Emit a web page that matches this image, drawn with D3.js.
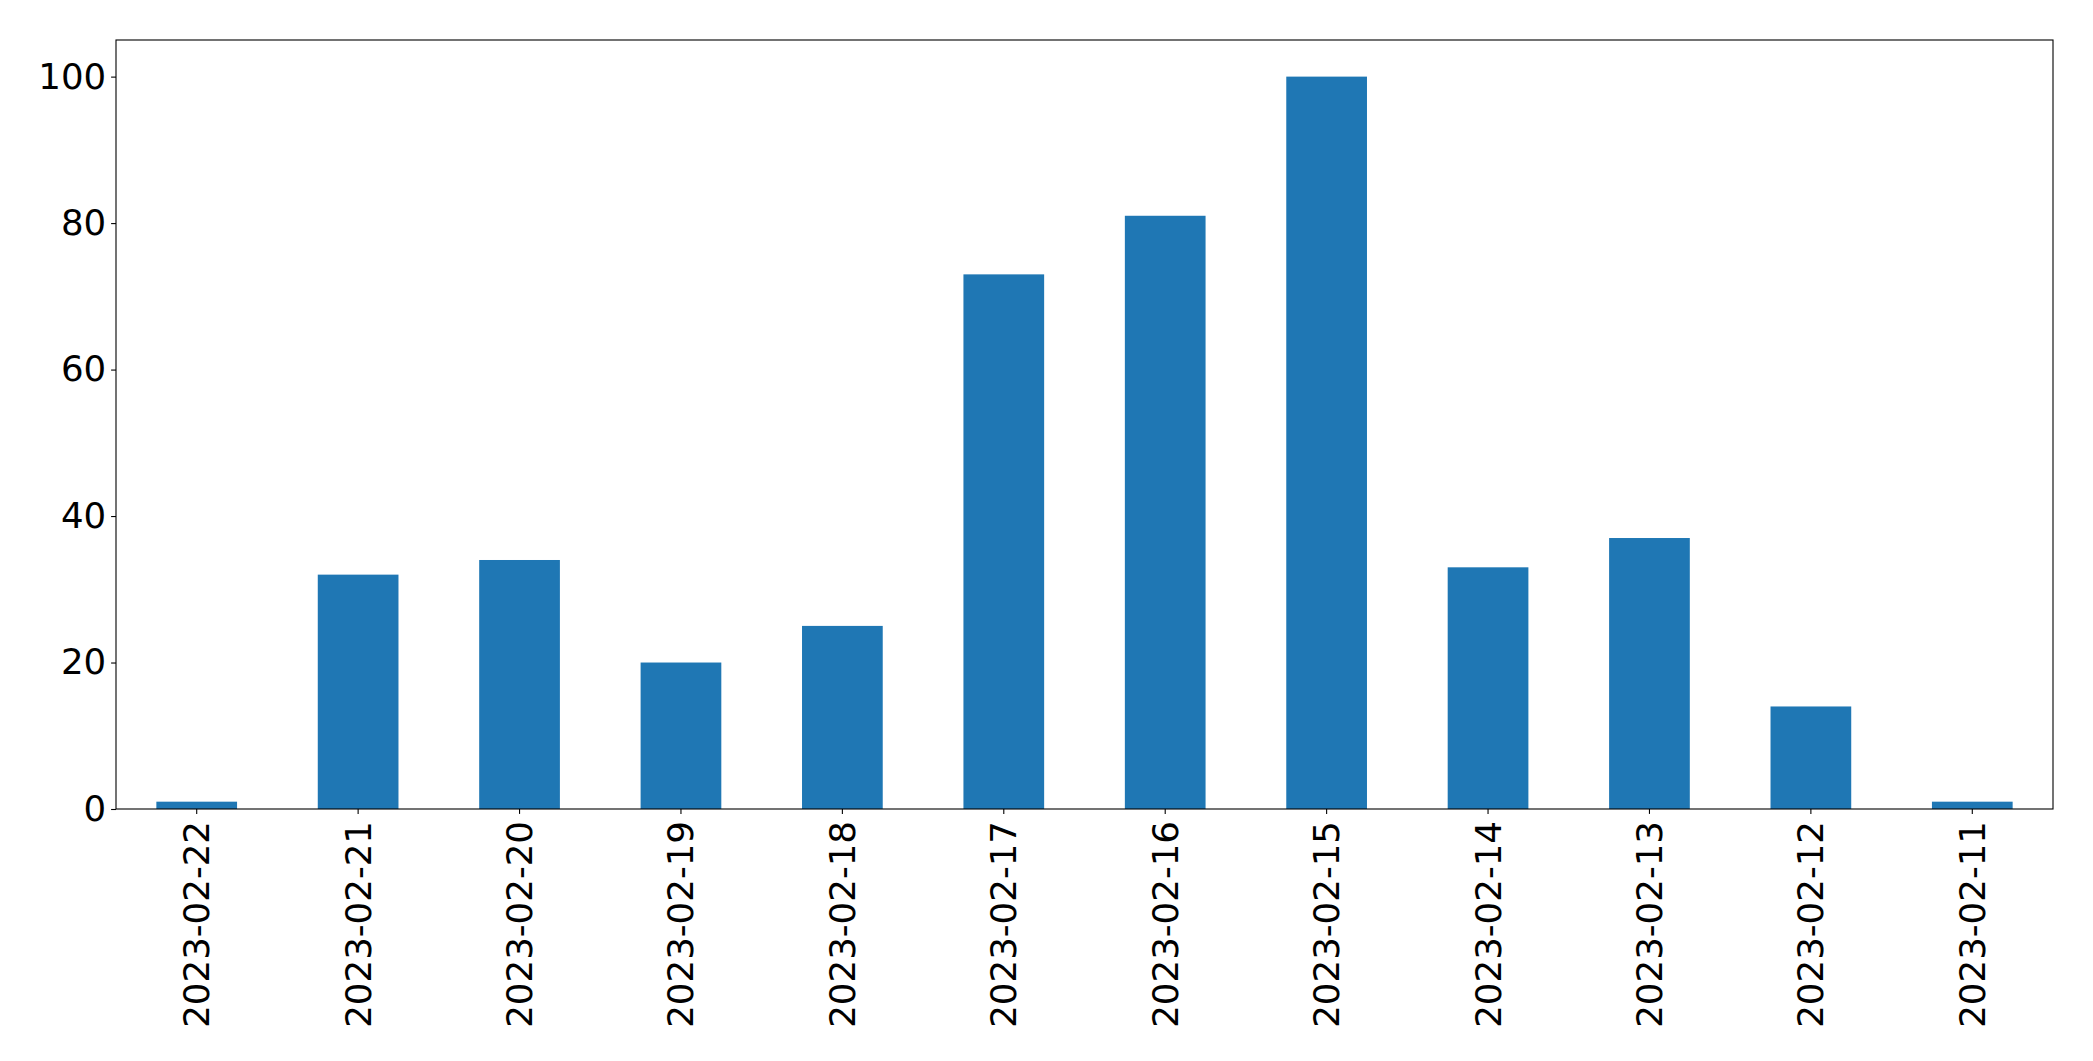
<!DOCTYPE html>
<html>
<head>
<meta charset="utf-8">
<script src="https://cdn.jsdelivr.net/npm/d3@7"></script>
<style>
  body { margin: 0; background: #fff; }
  svg text { font-family: "DejaVu Sans", sans-serif; }
</style>
</head>
<body>
<div id="chart"></div>
<script>
// Data
const dates = ["2023-02-22", "2023-02-21", "2023-02-20", "2023-02-19", "2023-02-18", "2023-02-17",
               "2023-02-16", "2023-02-15", "2023-02-14", "2023-02-13", "2023-02-12", "2023-02-11"];
const counts = [1, 32, 34, 20, 25, 73, 81, 100, 33, 37, 14, 1];
const yTicks = [0, 20, 40, 60, 80, 100];

const W = 2093, H = 1061;
const margin = { top: 40, right: 40, bottom: 252, left: 116 };
const width = W - margin.left - margin.right,
      height = H - margin.top - margin.bottom;
const fontSize = "35.6px";

const svg = d3.select("#chart")
    .append("svg")
    .attr("width", W)
    .attr("height", H);

const g = svg.append("g")
    .attr("transform", `translate(${margin.left},${margin.top})`);

const x = d3.scaleBand()
    .domain(dates)
    .range([0, width])
    .paddingInner(0.5)
    .paddingOuter(0.25);

const y = d3.scaleLinear()
    .domain([0, 105])
    .range([height, 0]);

// Bars
g.selectAll("rect.bar")
    .data(dates.map((d, i) => ({ date: d, value: counts[i] })))
    .enter()
    .append("rect")
    .attr("class", "bar")
    .attr("x", d => x(d.date))
    .attr("width", x.bandwidth())
    .attr("y", d => y(d.value))
    .attr("height", d => height - y(d.value))
    .attr("fill", "#1f77b4");

// X axis
const xAxis = g.append("g")
    .attr("transform", `translate(0,${height})`)
    .call(d3.axisBottom(x).tickSize(4.9).tickPadding(4.9).tickSizeOuter(0));
xAxis.select(".domain").remove();
xAxis.selectAll(".tick line").attr("stroke", "#000").attr("stroke-width", 1.1);
xAxis.selectAll(".tick text")
    .attr("fill", "#000")
    .style("font-size", fontSize)
    .attr("text-anchor", "end")
    .attr("dominant-baseline", "central")
    .attr("transform", "rotate(-90)")
    .attr("x", -12)
    .attr("y", 0)
    .attr("dy", null);

// Y axis
const yAxis = g.append("g")
    .call(d3.axisLeft(y).tickValues(yTicks).tickSize(4.9).tickPadding(4.9).tickSizeOuter(0));
yAxis.select(".domain").remove();
yAxis.selectAll(".tick line").attr("stroke", "#000").attr("stroke-width", 1.1);
yAxis.selectAll(".tick text")
    .attr("fill", "#000")
    .style("font-size", fontSize);

// Frame
g.append("rect")
    .attr("x", 0)
    .attr("y", 0)
    .attr("width", width)
    .attr("height", height)
    .attr("fill", "none")
    .attr("stroke", "#000")
    .attr("stroke-width", 1.1);
</script>
</body>
</html>
